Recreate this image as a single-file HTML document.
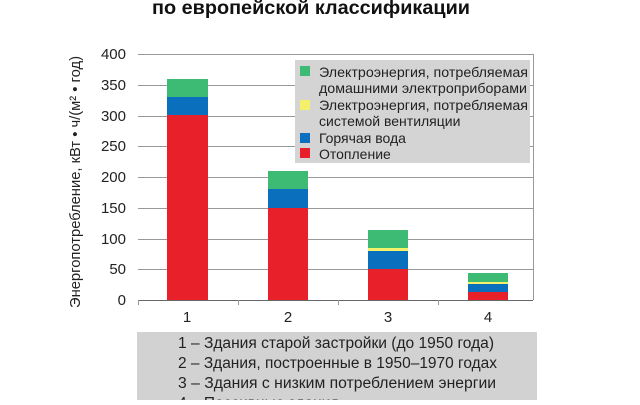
<!DOCTYPE html>
<html><head><meta charset="utf-8"><style>
body{margin:0;width:640px;height:400px;overflow:hidden;background:#fff;font-family:"Liberation Sans",sans-serif}
</style></head><body>
<svg width="640" height="400" xmlns="http://www.w3.org/2000/svg" font-family="Liberation Sans, sans-serif">
<text x="311" y="14" text-anchor="middle" font-size="19" font-weight="bold" fill="#111" textLength="318" lengthAdjust="spacingAndGlyphs">по европейской классификации</text>
<g stroke="#999" stroke-width="1">
<line x1="138" y1="54.5" x2="533" y2="54.5"/>
<line x1="138" y1="85.5" x2="533" y2="85.5"/>
<line x1="138" y1="116.5" x2="533" y2="116.5"/>
<line x1="138" y1="146.5" x2="533" y2="146.5"/>
<line x1="138" y1="177.5" x2="533" y2="177.5"/>
<line x1="138" y1="208.5" x2="533" y2="208.5"/>
<line x1="138" y1="239.5" x2="533" y2="239.5"/>
<line x1="138" y1="269.5" x2="533" y2="269.5"/>
<line x1="138" y1="300.5" x2="533" y2="300.5" stroke="#666"/>
<line x1="533.5" y1="54" x2="533.5" y2="300"/>
<line x1="138.5" y1="300" x2="138.5" y2="305"/>
<line x1="238.5" y1="300" x2="238.5" y2="305"/>
<line x1="338.5" y1="300" x2="338.5" y2="305"/>
<line x1="438.5" y1="300" x2="438.5" y2="305"/>
</g>
<g font-size="15" fill="#222" text-anchor="end">
<text x="126" y="59">400</text><text x="126" y="90">350</text><text x="126" y="121">300</text><text x="126" y="151">250</text><text x="126" y="182">200</text><text x="126" y="213">150</text><text x="126" y="244">100</text><text x="126" y="274">50</text><text x="126" y="305">0</text>
</g>
<g font-size="15" fill="#222" text-anchor="middle">
<text x="187" y="322">1</text><text x="288" y="322">2</text><text x="388" y="322">3</text><text x="488" y="322">4</text>
</g>
<text transform="translate(80,182) rotate(-90)" text-anchor="middle" font-size="15" fill="#222" textLength="252" lengthAdjust="spacingAndGlyphs">Энергопотребление, кВт • ч/(м² • год)</text>
<rect x="167" y="115" width="41" height="185" fill="#e8202a"/>
<rect x="167" y="97" width="41" height="18" fill="#0a6fbd"/>
<rect x="167" y="79" width="41" height="18" fill="#3dba73"/>
<rect x="268" y="208" width="40" height="92" fill="#e8202a"/>
<rect x="268" y="189" width="40" height="19" fill="#0a6fbd"/>
<rect x="268" y="171" width="40" height="18" fill="#3dba73"/>
<rect x="368" y="269" width="40" height="31" fill="#e8202a"/>
<rect x="368" y="251" width="40" height="18" fill="#0a6fbd"/>
<rect x="368" y="248" width="40" height="3" fill="#f5f06a"/>
<rect x="368" y="230" width="40" height="18" fill="#3dba73"/>
<rect x="468" y="292" width="40" height="8" fill="#e8202a"/>
<rect x="468" y="284" width="40" height="8" fill="#0a6fbd"/>
<rect x="468" y="282" width="40" height="2" fill="#f5f06a"/>
<rect x="468" y="273" width="40" height="9" fill="#3dba73"/>
<rect x="295" y="60" width="235" height="103" fill="#d4d4d4"/>
<rect x="300" y="66" width="10" height="10" fill="#3dba73"/>
<rect x="300" y="100" width="10" height="10" fill="#f5f06a"/>
<rect x="300" y="133" width="10" height="10" fill="#0a6fbd"/>
<rect x="300" y="148" width="10" height="10" fill="#e8202a"/>
<g font-size="14" fill="#222">
<text x="319" y="77" textLength="209" lengthAdjust="spacingAndGlyphs">Электроэнергия, потребляемая</text>
<text x="319" y="93" textLength="208" lengthAdjust="spacingAndGlyphs">домашними электроприборами</text>
<text x="319" y="110" textLength="209" lengthAdjust="spacingAndGlyphs">Электроэнергия, потребляемая</text>
<text x="319" y="126">системой вентиляции</text>
<text x="319" y="143">Горячая вода</text>
<text x="319" y="159">Отопление</text>
</g>
<rect x="137" y="332" width="400" height="70" fill="#d2d2d2"/>
<g font-size="15.5" fill="#222">
<text x="178" y="348" textLength="316" lengthAdjust="spacingAndGlyphs">1 – Здания старой застройки (до 1950 года)</text>
<text x="178" y="368" textLength="319" lengthAdjust="spacingAndGlyphs">2 – Здания, построенные в 1950–1970 годах</text>
<text x="178" y="388" textLength="318" lengthAdjust="spacingAndGlyphs">3 – Здания с низким потреблением энергии</text>
<text x="178" y="408">4 – Пассивные здания</text>
</g>
</svg>
</body></html>
